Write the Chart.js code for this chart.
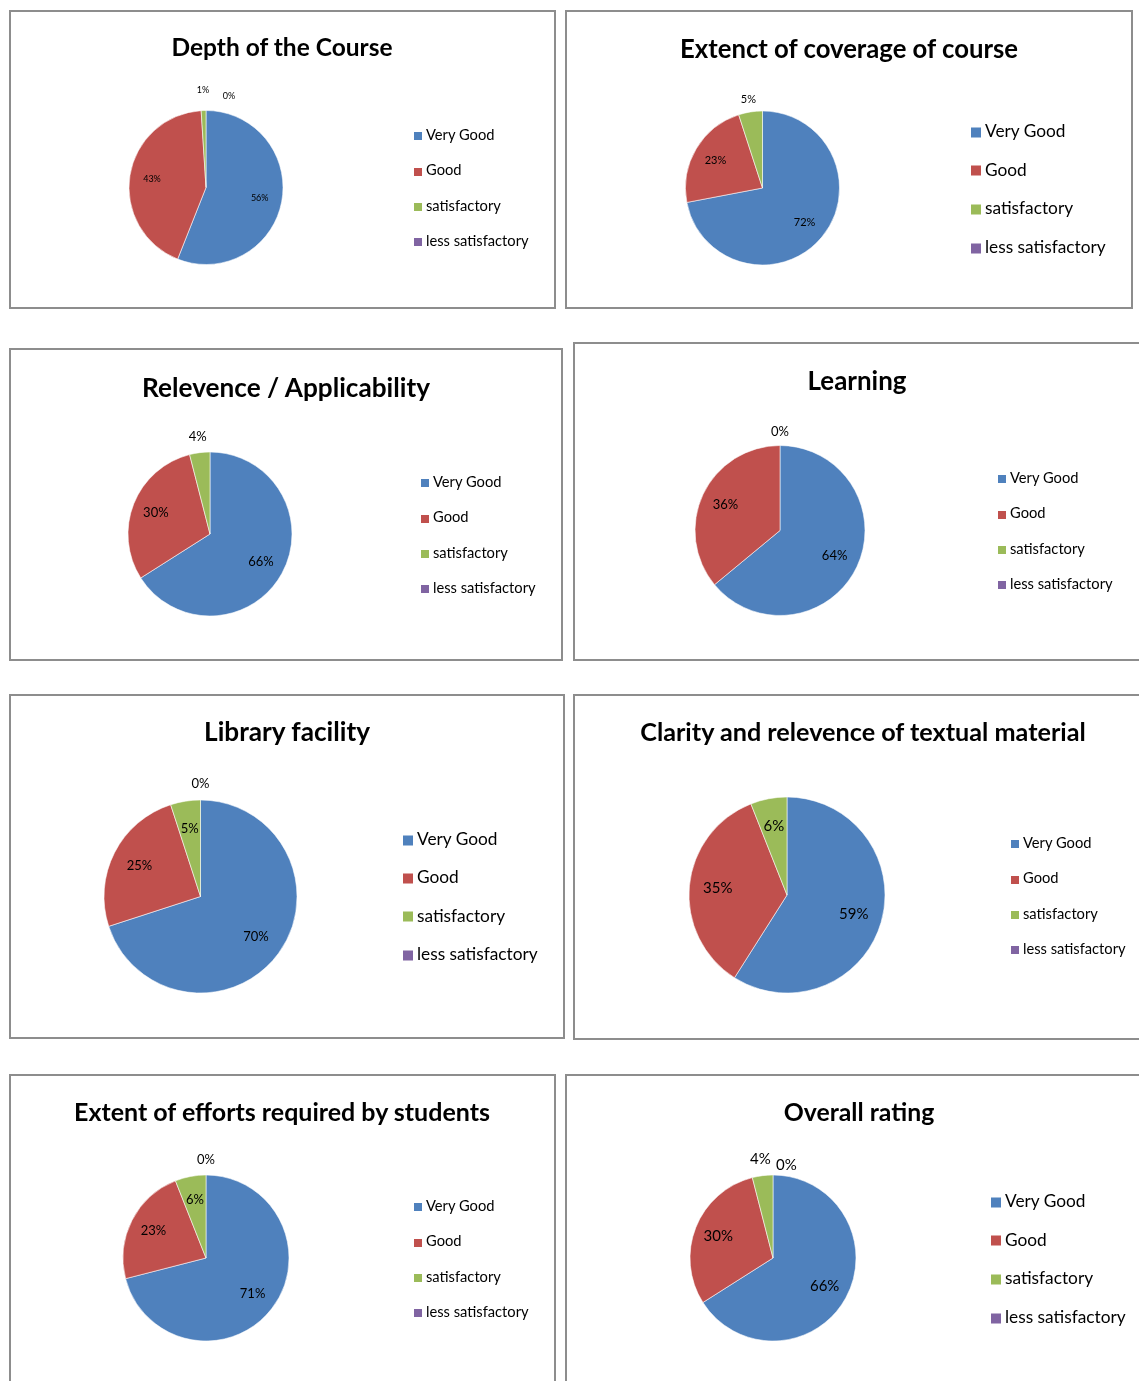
<!DOCTYPE html>
<html>
<head>
<meta charset="utf-8">
<script src="https://cdn.jsdelivr.net/npm/chart.js@4.4.1/dist/chart.umd.min.js"></script>
<style>
  html, body { margin: 0; padding: 0; background: #fff; }
  body { width: 1139px; height: 1381px; position: relative; overflow: hidden; font-family: Lato, "Open Sans", sans-serif; }
  .box { position: absolute; border: 2px solid #8d8d8d; box-sizing: border-box; background: #fff; }
  .box canvas { position: absolute; left: 0; top: 0; }
  .title { position: absolute; font-weight: bold; color: #000; white-space: nowrap; transform: translate(-50%, -50%); }
  .legend { position: absolute; color: #000; }
  .legend .item { position: absolute; white-space: nowrap; transform: translateY(-50%); }
  .legend .sw { display: inline-block; vertical-align: middle; margin-right: 4px; }
</style>
</head>
<body>
<script>
// categories shared by every pie
const categories = ['Very Good', 'Good', 'satisfactory', 'less satisfactory'];
const colors = ['#4f81bd', '#c0504d', '#9bbb59', '#8064a2'];

const titles = [
  'Depth of the Course',
  'Extenct of coverage of course',
  'Relevence / Applicability',
  'Learning',
  'Library facility',
  'Clarity and relevence of textual material',
  'Extent of efforts required by students',
  'Overall rating'
];

// percentages per chart (null = no label shown)
const depthValues = [56, 43, 1, 0];
const coverageValues = [72, 23, 5, null];
const relevenceValues = [66, 30, 4, null];
const learningValues = [64, 36, 0, null];
const libraryValues = [70, 25, 5, 0];
const clarityValues = [59, 35, 6, null];
const effortsValues = [71, 23, 6, 0];
const overallValues = [66, 30, 4, 0];

const seriesValues = [depthValues, coverageValues, relevenceValues, learningValues,
  libraryValues, clarityValues, effortsValues, overallValues];

// ---- layout of each panel (page pixels) ----
const panels = [
  { box: [9, 10, 556, 309],    pie: [206, 187.5, 77],  t: [282, 46, 24.5],   lg: [414, 134, 35.3, 14.7, 8],  lbl: 9,  outMax: 1, gap: 20 },
  { box: [565, 10, 1133, 309], pie: [762.5, 188, 77],  t: [849, 48, 25.7],   lg: [971, 130, 38.7, 17.3, 10], lbl: 11, outMax: 5, gap: 13 },
  { box: [9, 348, 563, 661],   pie: [210, 534, 82],    t: [286, 387, 26.2],  lg: [421, 481, 35.3, 14.7, 8],  lbl: 13, outMax: 4, gap: 16 },
  { box: [573, 342, 1150, 661],pie: [780, 530.5, 85],  t: [857, 380, 25.9],  lg: [998, 477, 35.3, 14.7, 8],  lbl: 13, outMax: 0, gap: 14 },
  { box: [9, 694, 565, 1039],  pie: [200.5, 896.5, 96.5], t: [287, 731, 26.2], lg: [403, 838, 38.3, 17.3, 10], lbl: 13, outMax: 0, gap: 16 },
  { box: [573, 694, 1150, 1040], pie: [787, 895, 98],  t: [863, 731, 25.2],  lg: [1011, 842, 35.3, 14.7, 8], lbl: 15, outMax: 0, gap: 16 },
  { box: [9, 1074, 556, 1400], pie: [206, 1258, 83],   t: [282, 1111, 25],   lg: [414, 1205, 35.3, 14.7, 8], lbl: 13, outMax: 0, gap: 15 },
  { box: [565, 1074, 1150, 1400], pie: [773, 1258, 83], t: [859, 1111, 24.8], lg: [991, 1200, 38.7, 17.3, 10], lbl: 15, outMax: 4, gap: 17 }
];

// percentage labels, inside the slice or just outside for small ones
const pieLabels = {
  id: 'pieLabels',
  afterDatasetsDraw(chart, args, opts) {
    const ctx = chart.ctx;
    const meta = chart.getDatasetMeta(0);
    const vals = chart.data.datasets[0].data;
    let lastOut = null;
    ctx.save();
    ctx.font = opts.size + 'px Lato, "Open Sans", sans-serif';
    ctx.fillStyle = '#000';
    ctx.textAlign = 'center';
    ctx.textBaseline = 'middle';
    meta.data.forEach((arc, i) => {
      const v = vals[i];
      if (v === null || v === undefined) return;
      const p = arc.getProps(['x', 'y', 'startAngle', 'endAngle', 'outerRadius'], true);
      const mid = (p.startAngle + p.endAngle) / 2;
      const outside = v <= opts.outMax;
      const d = outside ? p.outerRadius + opts.gap : p.outerRadius * 0.71;
      let lx = p.x + Math.cos(mid) * d;
      let ly = p.y + Math.sin(mid) * d;
      if (outside) {
        if (lastOut && Math.abs(lx - lastOut.x) < 22 && Math.abs(ly - lastOut.y) < 14) {
          lx = lastOut.x + 26;
          ly = lastOut.y + 6;
        }
        lastOut = { x: lx, y: ly };
      }
      ctx.fillText(v + '%', lx, ly);
    });
    ctx.restore();
  }
};

panels.forEach((pn, idx) => {
  const [x1, y1, x2, y2] = pn.box;
  const box = document.createElement('div');
  box.className = 'box';
  box.style.left = x1 + 'px';
  box.style.top = y1 + 'px';
  box.style.width = (x2 - x1) + 'px';
  box.style.height = (y2 - y1) + 'px';
  document.body.appendChild(box);

  const cw = x2 - x1 - 4, ch = y2 - y1 - 4;
  const cl = x1 + 2, ct = y1 + 2;
  const canvas = document.createElement('canvas');
  canvas.width = cw; canvas.height = ch;
  canvas.style.width = cw + 'px'; canvas.style.height = ch + 'px';
  box.appendChild(canvas);

  const [cx, cy, r] = pn.pie;
  new Chart(canvas.getContext('2d'), {
    type: 'pie',
    data: {
      labels: categories,
      datasets: [{
        data: seriesValues[idx],
        backgroundColor: colors,
        borderColor: 'rgba(255,255,255,0.7)',
        borderWidth: 0.8
      }]
    },
    options: {
      responsive: false,
      animation: false,
      radius: r,
      layout: {
        padding: {
          left: cx - r - cl,
          top: cy - r - ct,
          right: cw - (cx + r - cl),
          bottom: ch - (cy + r - ct)
        }
      },
      plugins: {
        legend: { display: false },
        title: { display: false },
        tooltip: { enabled: false },
        pieLabels: { size: pn.lbl, outMax: pn.outMax, gap: pn.gap }
      }
    },
    plugins: [pieLabels]
  });

  // title
  const t = document.createElement('div');
  t.className = 'title';
  t.textContent = titles[idx];
  t.style.left = pn.t[0] + 'px';
  t.style.top = pn.t[1] + 'px';
  t.style.fontSize = pn.t[2] + 'px';
  document.body.appendChild(t);

  // legend
  const [lx, ly, lgap, lsize, sw] = pn.lg;
  const lg = document.createElement('div');
  lg.className = 'legend';
  lg.style.left = lx + 'px';
  lg.style.top = '0px';
  categories.forEach((c, k) => {
    const it = document.createElement('div');
    it.className = 'item';
    it.style.top = (ly + k * lgap) + 'px';
    it.style.fontSize = lsize + 'px';
    it.innerHTML = '<span class="sw" style="width:' + sw + 'px;height:' + sw + 'px;background:' + colors[k] + '"></span>' + c;
    lg.appendChild(it);
  });
  document.body.appendChild(lg);
});
</script>
</body>
</html>
